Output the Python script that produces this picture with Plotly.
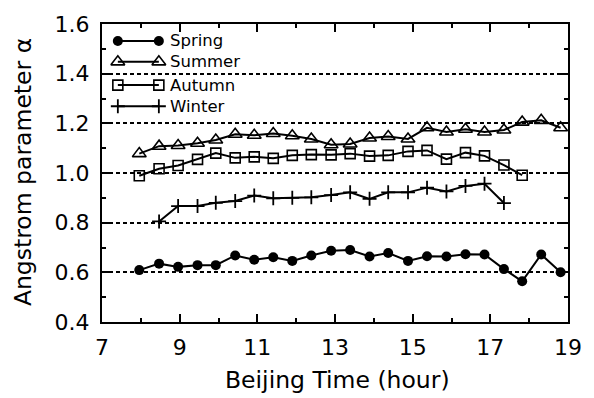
import plotly.graph_objects as go

# ---- data ----
hours = [7.96, 8.47, 8.96, 9.46, 9.93, 10.43, 10.92, 11.41, 11.90, 12.39, 12.90,
         13.39, 13.89, 14.37, 14.88, 15.37, 15.87, 16.36, 16.85, 17.35, 17.82,
         18.31, 18.81]

spring_x = hours
spring_y = [0.609, 0.635, 0.622, 0.629, 0.629, 0.668, 0.651, 0.661, 0.646, 0.668,
            0.687, 0.690, 0.664, 0.678, 0.646, 0.665, 0.664, 0.673, 0.672, 0.613,
            0.564, 0.672, 0.600]

summer_x = hours
summer_y = [1.078, 1.108, 1.111, 1.120, 1.133, 1.156, 1.152, 1.159, 1.150, 1.137,
            1.114, 1.117, 1.141, 1.147, 1.137, 1.182, 1.165, 1.176, 1.165, 1.173,
            1.205, 1.212, 1.182]

autumn_x = hours[0:21]
autumn_y = [0.989, 1.017, 1.030, 1.055, 1.080, 1.061, 1.065, 1.059, 1.071, 1.074,
            1.073, 1.078, 1.068, 1.071, 1.087, 1.091, 1.056, 1.082, 1.069, 1.032,
            0.991]

winter_x = hours[1:20]
winter_y = [0.805, 0.867, 0.867, 0.880, 0.887, 0.909, 0.898, 0.900, 0.902, 0.911,
            0.922, 0.896, 0.922, 0.922, 0.941, 0.926, 0.948, 0.957, 0.879]

series_names = ["Spring", "Summer", "Autumn", "Winter"]
x_title = "Beijing Time (hour)"
y_title = "Angstrom parameter α"

# ---- styles ----
FONT = "DejaVu Sans"
markers = [
    dict(symbol="circle", size=10, color="black", line=dict(width=0)),
    dict(symbol="triangle-up-open", size=12, color="black", line=dict(width=1.6)),
    dict(symbol="square-open", size=10, color="black", line=dict(width=1.6)),
    dict(symbol="cross-thin-open", size=10, color="black", line=dict(width=1.8)),
]
xs = [spring_x, summer_x, autumn_x, winter_x]
ys = [spring_y, summer_y, autumn_y, winter_y]

fig = go.Figure()
for name, x, y, m in zip(series_names, xs, ys, markers):
    fig.add_trace(go.Scatter(x=x, y=y, mode="lines+markers", name=name,
                             line=dict(color="black", width=2), marker=m,
                             showlegend=False))

# custom legend (markers at both ends of the sample line) on an overlay axis
leg_rows = [0.943, 0.873, 0.795, 0.724]
leg_x0, leg_x1, leg_tx = 0.034, 0.122, 0.142
for name, m, ry in zip(series_names, markers, leg_rows):
    fig.add_trace(go.Scatter(x=[leg_x0, leg_x1], y=[ry, ry], mode="lines+markers",
                             xaxis="x2", yaxis="y2", line=dict(color="black", width=2),
                             marker=m, showlegend=False, hoverinfo="skip"))
    fig.add_annotation(x=leg_tx, y=ry, xref="paper", yref="paper", text=name,
                       showarrow=False, xanchor="left", yanchor="middle",
                       font=dict(family=FONT, size=16.5, color="black"))

axis_common = dict(showline=True, linecolor="black", linewidth=2, mirror="ticks",
                   ticks="inside", ticklen=8, tickwidth=1.5, tickcolor="black",
                   zeroline=False,
                   tickfont=dict(family=FONT, size=22, color="black"))

fig.update_layout(
    width=594, height=398,
    margin=dict(l=102, r=18, t=14, b=76),
    paper_bgcolor="white", plot_bgcolor="white",
    showlegend=False,
    xaxis=dict(range=[7, 19], tick0=7, dtick=2, showgrid=False,
               minor=dict(dtick=1, tick0=7, ticks="inside", ticklen=4,
                          tickwidth=1.5, tickcolor="black"),
               ticklabelstandoff=5,
               **axis_common),
    yaxis=dict(range=[0.4, 1.6], tick0=0.4, dtick=0.2, tickformat=".1f",
               showgrid=True, gridcolor="black", gridwidth=1.6, griddash="4px,3px",
               minor=dict(dtick=0.1, ticks="inside", ticklen=4,
                          tickwidth=1.5, tickcolor="black"),
               ticklabelstandoff=6,
               **axis_common),
    xaxis2=dict(range=[0, 1], overlaying="x", visible=False, fixedrange=True),
    yaxis2=dict(range=[0, 1], overlaying="y", visible=False, fixedrange=True),
)

fig.add_annotation(x=0.505, y=-0.195, xref="paper", yref="paper", text=x_title,
                   showarrow=False, xanchor="center", yanchor="middle",
                   font=dict(family=FONT, size=23.5, color="black"))
fig.add_annotation(x=-0.168, y=0.502, xref="paper", yref="paper", text=y_title,
                   showarrow=False, textangle=-90, xanchor="center", yanchor="middle",
                   font=dict(family=FONT, size=23.5, color="black"))

fig.write_html("out.html")
